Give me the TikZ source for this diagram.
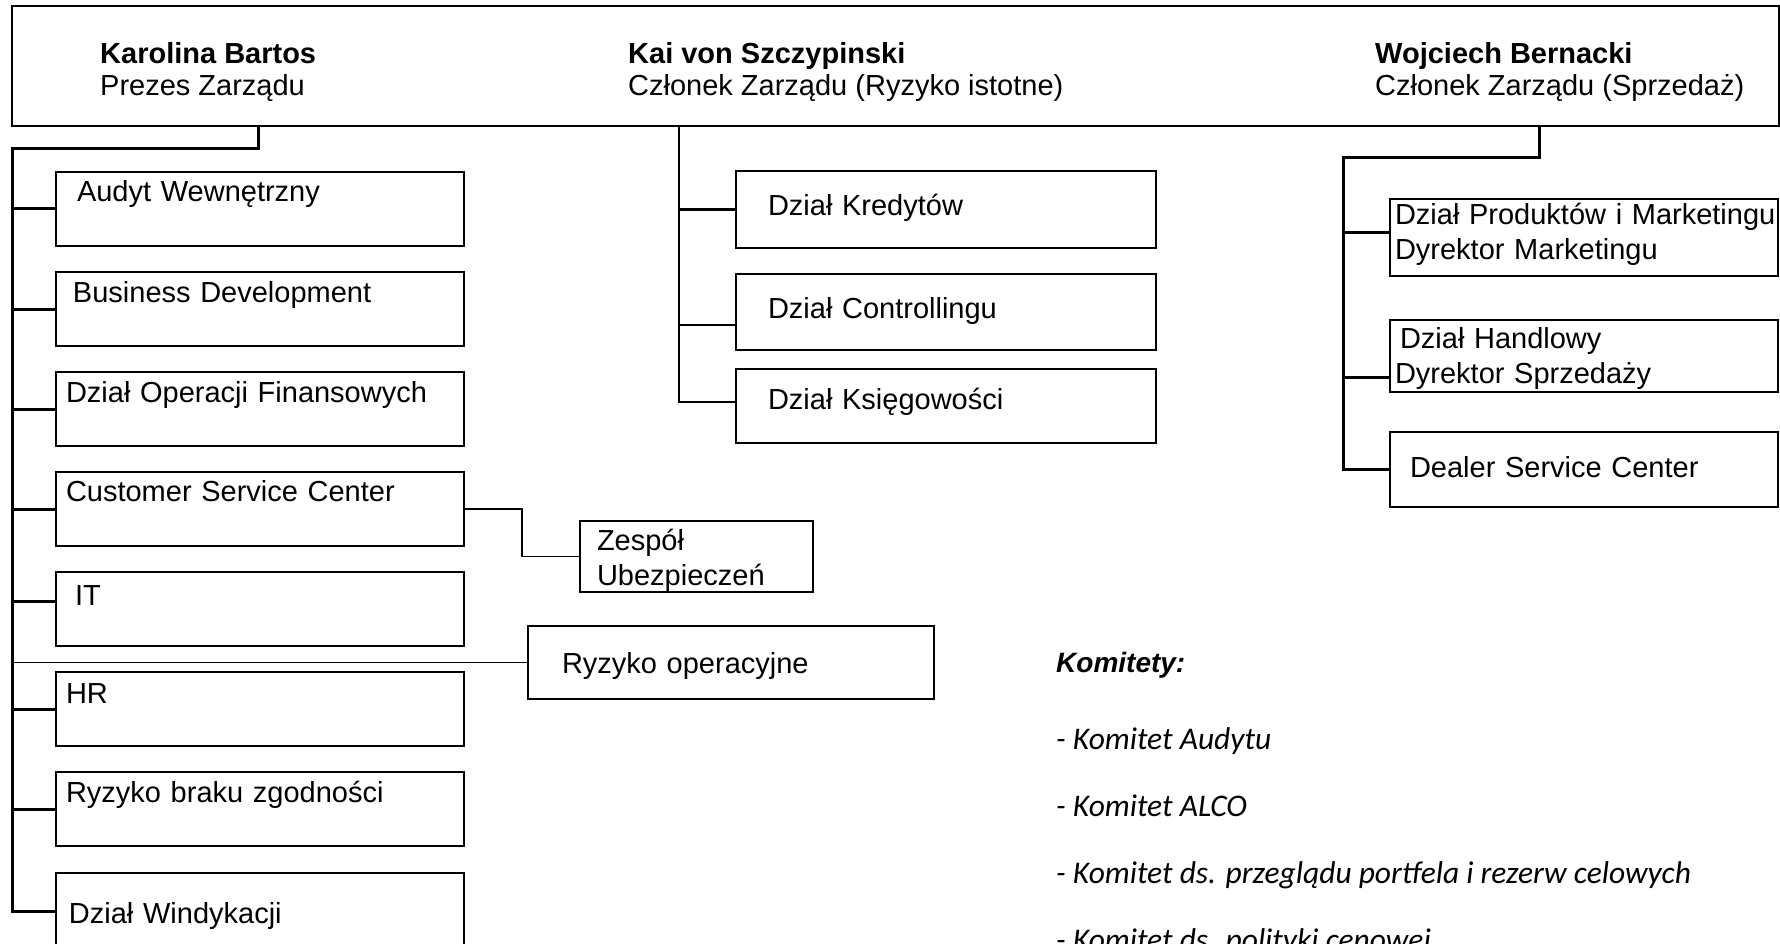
\documentclass[tikz,border=0pt]{standalone}
\usepackage{fontspec}
\setmainfont{Liberation Sans}
\newfontfamily\komfont{Carlito}
\usetikzlibrary{positioning,calc}

\tikzset{
  dept/.style={draw, rectangle, line width=2.6pt, anchor=north west, inner sep=0pt, outer sep=0pt, align=left},
  leftdept/.style={dept, text width=408pt, text height=30pt, text depth=44pt},
  middept/.style={dept, text width=420pt},
  rightdept/.style={dept, text width=388pt},
  person/.style={anchor=base west, align=left, inner sep=0pt, font=\fontsize{29}{32}\selectfont},
  conn/.style={line width=3pt},
  midconn/.style={line width=2.2pt},
  thinconn/.style={line width=1.4pt},
}

\begin{document}
\begin{tikzpicture}[x=1pt, y=-1pt, every node/.style={font=\fontsize{29}{35}\selectfont}]
\useasboundingbox (0,0) rectangle (1780,944);
\clip (0,0) rectangle (1780,944);

% Zarząd
\node[dept, minimum width=1767pt, minimum height=120pt] (board) at (12,6) {};
\node[person] (prezes) at (100,96) {\textbf{Karolina Bartos}\\Prezes Zarządu};
\node[person] (ryzyko) at (628,96) {\textbf{Kai von Szczypinski}\\Członek Zarządu (Ryzyko istotne)};
\node[person] (sprzedaz) at (1375,96) {\textbf{Wojciech Bernacki}\\Członek Zarządu (Sprzedaż)};

% pion prezesa
\node[leftdept] (audyt) at (56,172) {\hspace*{21pt}Audyt Wewnętrzny};
\node[leftdept, below=26pt of audyt] (bizdev) {\hspace*{17pt}Business Development};
\node[leftdept, below=26pt of bizdev] (finops) {\hspace*{10pt}Dział Operacji Finansowych};
\node[leftdept, text height=29pt, text depth=45pt, below=26pt of finops] (csc) {\hspace*{10pt}Customer Service Center};
\node[leftdept, text height=33pt, text depth=41pt, below=26pt of csc] (it) {\hspace*{19pt}IT};
\node[leftdept, text height=31pt, text depth=43pt, below=26pt of it] (hr) {\hspace*{10pt}HR};
\node[leftdept, below=26pt of hr] (zgodnosc) {\hspace*{10pt}Ryzyko braku zgodności};
\node[leftdept, text height=50pt, text depth=26pt, below=27pt of zgodnosc] (windyk) {\hspace*{13pt}Dział Windykacji};

\node[dept, line width=2.2pt, text width=233pt, text height=29pt, text depth=42pt] (zespol) at (580,521) {\hspace*{17pt}Zespół\\\hspace*{17pt}Ubezpieczeń};
\node[dept, line width=2.2pt, text width=406pt, text height=47pt, text depth=26pt] (ryzop) at (528,626) {\hspace*{34pt}Ryzyko operacyjne};

% pion ryzyka
\node[middept, text height=45pt, text depth=32pt] (kred) at (736,171) {\hspace*{32pt}Dział Kredytów};
\node[middept, text height=44pt, text depth=32pt, below=26pt of kred] (contr) {\hspace*{32pt}Dział Controllingu};
\node[middept, text height=40pt, text depth=34pt, below=19pt of contr] (ksieg) {\hspace*{32pt}Dział Księgowości};

% pion sprzedaży
\node[rightdept, text height=26pt, text depth=51pt] (prod) at (1390,199) {\hspace*{5pt}Dział Produktów i Marketingu\\\hspace*{5pt}Dyrektor Marketingu};
\node[rightdept, text height=28pt, text depth=44pt, below=44pt of prod] (handel) {\hspace*{10pt}Dział Handlowy\\\hspace*{5pt}Dyrektor Sprzedaży};
\node[rightdept, text height=45pt, text depth=30pt, below=40pt of handel] (dealer) {\hspace*{20pt}Dealer Service Center};

% komitety
\node[person, font=\fontsize{28}{34}\selectfont\bfseries\itshape] (komitety) at (1056,672) {Komitety:};
\node[person, font=\komfont\itshape\fontsize{31.5}{67}\selectfont] (komlist) at (1056,950) {- Komitet Audytu\\- Komitet ALCO\\- Komitet ds. przeglądu portfela i rezerw celowych\\- Komitet ds. polityki cenowej};

% połączenia
\coordinate (ltop) at ($(board.south west)+(246,0)$);
\coordinate (lbend) at (12,149);
\draw[conn] (ltop) |- (lbend) |- (windyk.west);
\foreach \d in {audyt,bizdev,finops,csc,hr,zgodnosc}
  \draw[conn] (\d.west) -- (\d.west -| lbend);
\draw[conn] ([yshift=8pt]it.west) -- ([yshift=8pt]it.west -| lbend);
\draw[thinconn] (csc.east) -| ($(csc.east)!.5!(zespol.west)$) |- (zespol.west);
\draw[thinconn] (ryzop.west) -- (ryzop.west -| lbend);

\coordinate (mtop) at ($(board.south west)+(667,0)$);
\draw[midconn] (mtop) |- ([yshift=4pt]ksieg.west);
\draw[midconn] (kred.west) -- (kred.west -| mtop);
\draw[midconn] ([yshift=-13pt]contr.west) -- ([yshift=-13pt]contr.west -| mtop);

\coordinate (rtop) at ($(board.south west)+(1527,0)$);
\coordinate (rbend) at (1343,158);
\draw[conn] (rtop) |- (rbend) |- (dealer.west);
\draw[conn] ([yshift=5pt]prod.west) -- ([yshift=5pt]prod.west -| rbend);
\draw[conn] ([yshift=-21pt]handel.west) -- ([yshift=-21pt]handel.west -| rbend);
\end{tikzpicture}
\end{document}
